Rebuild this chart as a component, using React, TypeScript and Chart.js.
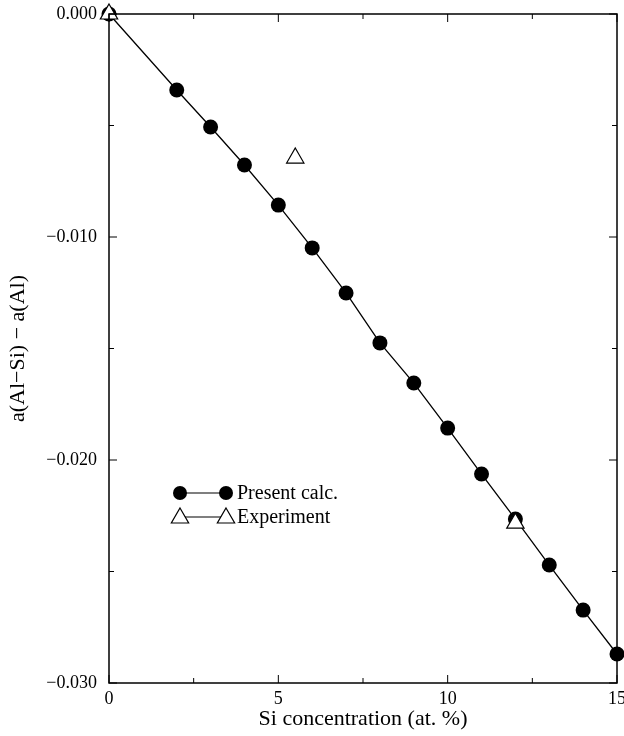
import React, { useEffect, useRef } from "react";
import { Chart, registerables } from "chart.js";

Chart.register(...registerables);

const calcX = [0, 2, 3, 4, 5, 6, 7, 8, 9, 10, 11, 12, 13, 14, 15];
const calcY = [0, -0.00341, -0.00507, -0.00677, -0.00857, -0.01049, -0.01251, -0.01475, -0.01655, -0.01857, -0.02063, -0.02265, -0.02471, -0.02673, -0.0287];
const expX = [0, 5.5, 12];
const expY = [0, -0.00646, -0.02283];
const xMajorTicks = [0, 5, 10, 15];
const yMajorTicks = [0, -0.01, -0.02, -0.03];
const legendLabels = ["Present calc.", "Experiment"];

const FONT = "'Liberation Serif', 'Times New Roman', serif";

const fmtY = (v: number) => {
  const s = Math.abs(v).toFixed(3);
  return v < -1e-9 ? "\u2212" + s : s;
};

const framePlugin = {
  id: "frameTicks",
  afterDatasetsDraw(chart: any) {
    const { ctx, chartArea: a, scales } = chart;
    const xs = scales.x;
    const ys = scales.y;
    ctx.save();
    ctx.strokeStyle = "#000";
    ctx.lineWidth = 1.5;
    ctx.strokeRect(a.left, a.top, a.right - a.left, a.bottom - a.top);
    ctx.lineWidth = 1;
    for (let v = 0; v <= 15.001; v += 2.5) {
      const px = xs.getPixelForValue(v);
      const major = xMajorTicks.some((t) => Math.abs(t - v) < 1e-6);
      const len = major ? 8 : 5;
      ctx.beginPath();
      ctx.moveTo(px, a.bottom);
      ctx.lineTo(px, a.bottom - len);
      ctx.moveTo(px, a.top);
      ctx.lineTo(px, a.top + len);
      ctx.stroke();
    }
    for (let i = 0; i <= 6; i++) {
      const v = -0.005 * i;
      const py = ys.getPixelForValue(v);
      const major = yMajorTicks.some((t) => Math.abs(t - v) < 1e-9);
      const len = major ? 8 : 5;
      ctx.beginPath();
      ctx.moveTo(a.left, py);
      ctx.lineTo(a.left + len, py);
      ctx.moveTo(a.right, py);
      ctx.lineTo(a.right - len, py);
      ctx.stroke();
    }
    // legend
    const lx0 = a.left + 71;
    const lx1 = a.left + 117;
    const rows = [a.top + 479, a.top + 503];
    ctx.font = "20px " + FONT;
    ctx.textBaseline = "middle";
    ctx.textAlign = "left";
    rows.forEach((ry, i) => {
      ctx.lineWidth = 1.2;
      ctx.strokeStyle = "#000";
      ctx.beginPath();
      ctx.moveTo(lx0, ry);
      ctx.lineTo(lx1, ry);
      ctx.stroke();
      [lx0, lx1].forEach((cx) => {
        if (i === 0) {
          ctx.fillStyle = "#000";
          ctx.beginPath();
          ctx.arc(cx, ry, 7, 0, Math.PI * 2);
          ctx.fill();
        } else {
          const r = 10;
          const cy = ry + 1;
          ctx.fillStyle = "#fff";
          ctx.beginPath();
          ctx.moveTo(cx, cy - r);
          ctx.lineTo(cx + r * 0.866, cy + r * 0.5);
          ctx.lineTo(cx - r * 0.866, cy + r * 0.5);
          ctx.closePath();
          ctx.fill();
          ctx.stroke();
        }
      });
      ctx.fillStyle = "#000";
      ctx.fillText(legendLabels[i], lx1 + 11, ry + 1);
    });
    ctx.restore();
  },
};

export default function App() {
  const ref = useRef<HTMLCanvasElement>(null);
  useEffect(() => {
    if (!ref.current) return;
    const chart = new Chart(ref.current, {
      type: "scatter",
      data: {
        datasets: [
          {
            label: legendLabels[1],
            data: expX.map((x, i) => ({ x, y: expY[i] })),
            showLine: false,
            pointStyle: "triangle",
            pointRadius: 10,
            pointBackgroundColor: "#fff",
            pointBorderColor: "#000",
            pointBorderWidth: 1.2,
            order: 0,
            clip: false as any,
          },
          {
            label: legendLabels[0],
            data: calcX.map((x, i) => ({ x, y: calcY[i] })),
            showLine: true,
            borderColor: "#000",
            borderWidth: 1.3,
            pointStyle: "circle",
            pointRadius: 7.5,
            pointBackgroundColor: "#000",
            pointBorderColor: "#000",
            pointBorderWidth: 0,
            order: 1,
            clip: false as any,
          },
        ],
      },
      options: {
        animation: false,
        responsive: false,
        maintainAspectRatio: false,
        layout: { autoPadding: false, padding: { top: 14, right: 7, left: 0, bottom: 0 } },
        plugins: { legend: { display: false }, tooltip: { enabled: false } },
        scales: {
          x: {
            type: "linear",
            min: 0,
            max: 15,
            grid: { display: false, drawTicks: false },
            border: { display: false },
            ticks: {
              stepSize: 2.5,
              padding: 5,
              color: "#000",
              font: { family: FONT, size: 18 },
              callback: (v: any) => (xMajorTicks.includes(Number(v)) ? String(v) : ""),
              maxRotation: 0,
              autoSkip: false,
            },
            title: {
              display: true,
              text: "Si concentration (at. %)",
              color: "#000",
              font: { family: FONT, size: 22 },
              padding: { top: 0, bottom: 4 },
            },
            afterFit: (s: any) => {
              s.height = 53;
              s.paddingLeft = 0;
              s.paddingRight = 0;
            },
          },
          y: {
            type: "linear",
            min: -0.03,
            max: 0,
            grid: { display: false, drawTicks: false },
            border: { display: false },
            ticks: {
              stepSize: 0.005,
              padding: 12,
              color: "#000",
              font: { family: FONT, size: 18 },
              autoSkip: false,
              callback: (v: any) =>
                yMajorTicks.some((t) => Math.abs(t - Number(v)) < 1e-9) ? fmtY(Number(v)) : "",
            },
            title: {
              display: true,
              text: "a(Al\u2212Si) \u2212 a(Al)",
              color: "#000",
              font: { family: FONT, size: 22 },
              padding: { top: 5, bottom: 0 },
            },
            afterFit: (s: any) => {
              s.width = 109;
              s.paddingTop = 0;
              s.paddingBottom = 0;
            },
          },
        },
      },
      plugins: [framePlugin],
    });
    return () => chart.destroy();
  }, []);
  return (
    <div style={{ position: "fixed", left: 0, top: 0, width: 624, height: 736, background: "#fff" }}>
      <canvas ref={ref} width={624} height={736} style={{ display: "block" }} />
    </div>
  );
}
